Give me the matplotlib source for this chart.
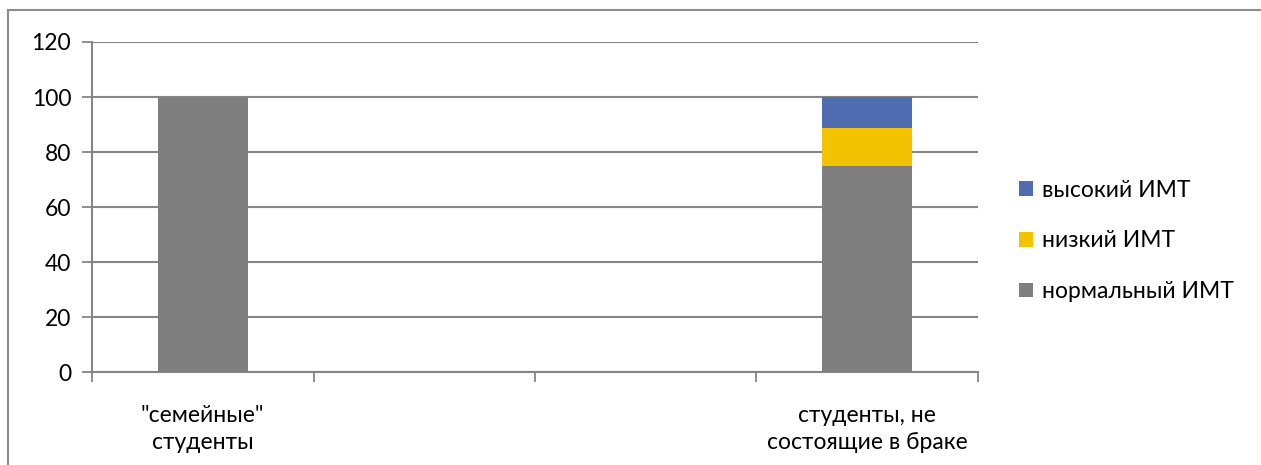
import matplotlib
matplotlib.use('Agg')
import matplotlib.pyplot as plt
import numpy as np

plt.rcParams['font.family'] = ['Lato', 'DejaVu Sans']

categories = ['"семейные"\nстуденты', '', '', 'студенты, не\nсостоящие в браке']
normal_bmi = [100, 0, 0, 75]
low_bmi = [0, 0, 0, 13.6]
high_bmi = [0, 0, 0, 11.4]
series_names = ['нормальный ИМТ', 'низкий ИМТ', 'высокий ИМТ']
colors = ['#7F7F7F', '#F3C200', '#4F6DB0']

fig = plt.figure(figsize=(12.61, 4.65), dpi=100)
ax = fig.add_axes([92/1261., 1 - 372/465., (978-92)/1261., (372-42)/465.])

x = np.arange(len(categories))
w = 0.406
bottom = np.zeros(len(categories))
for vals, name, col in zip([normal_bmi, low_bmi, high_bmi], series_names, colors):
    ax.bar(x, vals, w, bottom=bottom, color=col, label=name, zorder=3, linewidth=0)
    bottom += np.array(vals)

ax.set_xlim(-0.5, len(categories) - 0.5)
ax.set_ylim(0, 120)
ax.set_yticks(range(0, 121, 20))
ax.yaxis.grid(True, color='#868686', linewidth=1.5, zorder=0)

ax.set_xticks(np.arange(-0.5, len(categories), 1))
ax.set_xticklabels([])
ax.set_xticks(x, minor=True)
ax.set_xticklabels(categories, minor=True, fontsize=16.5, linespacing=1.35)
ax.tick_params(axis='x', which='minor', length=0, pad=24)
ax.tick_params(axis='x', which='major', length=7, width=1.3, color='#868686', direction='out')
ax.tick_params(axis='y', length=7, width=1.3, color='#868686', labelsize=16.5, pad=8)

for s in ['top', 'right']:
    ax.spines[s].set_visible(False)
for s in ['left', 'bottom']:
    ax.spines[s].set_color('#868686')
    ax.spines[s].set_linewidth(1.5)

h, l = ax.get_legend_handles_labels()
ax.legend(h[::-1], l[::-1], loc='center left', bbox_to_anchor=(1.0235, 0.397),
          frameon=False, fontsize=16.5, handlelength=0.6, handleheight=0.6,
          handletextpad=0.4, labelspacing=1.3)

# outer chart frame
fig.patches.append(plt.Rectangle((8/1261., -0.1), 1.1, 1 - 10/465. + 0.1,
                                 transform=fig.transFigure, fill=False,
                                 edgecolor='#8C8C8C', linewidth=1.5))

plt.savefig('out.png')
